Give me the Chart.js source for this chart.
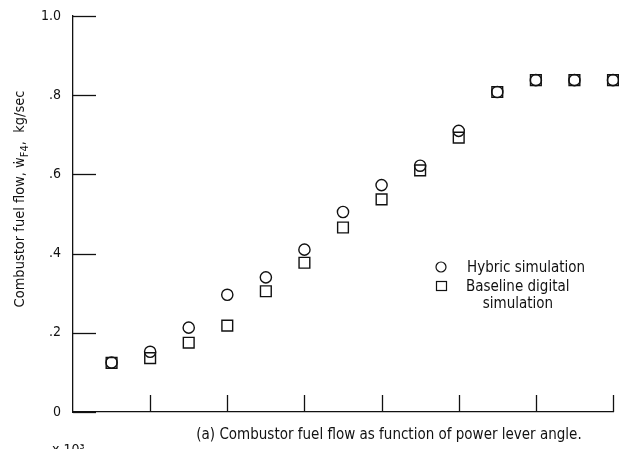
<!DOCTYPE html>
<html>
<head>
<meta charset="utf-8">
<script src="https://cdn.jsdelivr.net/npm/chart.js@4.4.0/dist/chart.umd.min.js"></script>
<style>
html,body{margin:0;padding:0;background:#fff;}
#wrap{width:619px;height:449px;position:relative;}
</style>
</head>
<body>
<div id="wrap"><canvas id="c" width="619" height="449"></canvas></div>
<script>
// Power lever angle positions (in axis tick units) for each measurement
const leverPositions = [0.5, 1, 1.5, 2, 2.5, 3, 3.5, 4, 4.5, 5, 5.5, 6, 6.5, 7];
// Hybrid simulation combustor fuel flow, kg/sec
const hybridFlow = [0.125, 0.152, 0.213, 0.296, 0.34, 0.41, 0.505, 0.573, 0.622, 0.71, 0.808, 0.838, 0.838, 0.838];
// Baseline digital simulation combustor fuel flow, kg/sec
const baselineFlow = [0.124, 0.136, 0.175, 0.218, 0.305, 0.377, 0.466, 0.537, 0.61, 0.693, 0.808, 0.838, 0.838, 0.838];
const yTickValues = [0, 0.2, 0.4, 0.6, 0.8, 1.0];
const yTickLabels = ['0', '.2', '.4', '.6', '.8', '1.0'];
const xTickValues = [1, 2, 3, 4, 5, 6, 7];
const legendLabels = ['Hybric simulation', 'Baseline digital', 'simulation'];
const captionText = '(a) Combustor fuel flow as function of power lever angle.';
const FONT = '"Liberation Sans Narrow", "DejaVu Sans Condensed", "Liberation Sans", sans-serif';

const toPts = (xs, ys) => xs.map((x, i) => ({x: x, y: ys[i]}));

const decor = {
  id: 'decor',
  afterDraw(chart) {
    const ctx = chart.ctx;
    const xs = chart.scales.x, ys = chart.scales.y;
    const ca = chart.chartArea;
    ctx.save();
    ctx.strokeStyle = '#111';
    ctx.lineWidth = 1.3;
    // inward y ticks
    yTickValues.forEach(v => {
      const py = Math.round(ys.getPixelForValue(v)) + 0.5;
      ctx.beginPath(); ctx.moveTo(ca.left, py); ctx.lineTo(ca.left + 23, py); ctx.stroke();
    });
    // inward x ticks
    xTickValues.forEach(v => {
      const px = Math.round(xs.getPixelForValue(v)) + 0.5;
      ctx.beginPath(); ctx.moveTo(px, ca.bottom); ctx.lineTo(px, ca.bottom - 17); ctx.stroke();
    });
    // y-axis title (rotated, with subscript)
    ctx.fillStyle = '#111';
    ctx.translate(24, 199);
    ctx.rotate(-Math.PI / 2);
    ctx.textBaseline = 'alphabetic';
    const f1 = '14.5px ' + FONT, f2 = '11px ' + FONT;
    const parts = [['Combustor fuel flow, ', f1, 0], ['\u1E87', f1, 0], ['F4', f2, 4], [',  kg/sec', f1, 0]];
    let total = 0;
    parts.forEach(p => { ctx.font = p[1]; total += ctx.measureText(p[0]).width; });
    let cx = -total / 2;
    parts.forEach(p => { ctx.font = p[1]; ctx.fillText(p[0], cx, p[2]); cx += ctx.measureText(p[0]).width; });
    ctx.restore();

    // legend
    ctx.save();
    ctx.strokeStyle = '#111'; ctx.fillStyle = '#111'; ctx.lineWidth = 1.2;
    ctx.beginPath(); ctx.arc(441, 267, 5, 0, Math.PI * 2); ctx.stroke();
    ctx.strokeRect(436.5, 281.5, 10, 9);
    ctx.font = '15px ' + FONT;
    ctx.textBaseline = 'middle';
    ctx.textAlign = 'left';
    ctx.fillText(legendLabels[0], 467, 268);
    ctx.fillText(legendLabels[1], 466, 287);
    ctx.textAlign = 'center';
    ctx.fillText(legendLabels[2], 518, 304);
    // caption
    ctx.font = '15px ' + FONT;
    ctx.fillText(captionText, 389, 435);
    // clipped multiplier fragment
    ctx.textAlign = 'left';
    ctx.font = '14px ' + FONT;
    ctx.textBaseline = 'alphabetic';
    ctx.fillText('x 10\u00B3', 52, 454);
    ctx.restore();
  }
};

new Chart(document.getElementById('c'), {
  type: 'scatter',
  data: {
    datasets: [
      {
        label: legendLabels[1],
        data: toPts(leverPositions, baselineFlow),
        pointStyle: 'rect',
        pointRadius: 7.6,
        pointBorderWidth: 1.4,
        pointBorderColor: '#111',
        pointBackgroundColor: 'rgba(0,0,0,0)',
        showLine: false,
        clip: false
      },
      {
        label: legendLabels[0],
        data: toPts(leverPositions, hybridFlow),
        pointStyle: 'circle',
        pointRadius: 5.6,
        pointBorderWidth: 1.4,
        pointBorderColor: '#111',
        pointBackgroundColor: 'rgba(0,0,0,0)',
        showLine: false,
        clip: false
      }
    ]
  },
  options: {
    responsive: false,
    animation: false,
    events: [],
    layout: {autoPadding: false, padding: {left: 0, top: 16, right: 6, bottom: 37}},
    plugins: {legend: {display: false}, tooltip: {enabled: false}},
    scales: {
      x: {
        type: 'linear', min: 0, max: 7,
        grid: {display: false},
        border: {display: true, color: '#111', width: 1.3},
        ticks: {display: false},
        afterFit: s => { s.height = 0; s.paddingLeft = 0; s.paddingRight = 0; }
      },
      y: {
        type: 'linear', min: 0, max: 1,
        afterBuildTicks: s => { s.ticks = yTickValues.map(v => ({value: v})); },
        grid: {display: false},
        border: {display: true, color: '#111', width: 1.3},
        ticks: {
          color: '#111',
          padding: 4,
          font: {family: FONT, size: 14},
          callback: (v) => { const i = yTickValues.findIndex(t => Math.abs(t - v) < 1e-9); return i >= 0 ? yTickLabels[i] : ''; }
        },
        afterFit: s => { s.width = 73; s.paddingTop = 0; s.paddingBottom = 0; }
      }
    }
  },
  plugins: [decor]
});
</script>
</body>
</html>
